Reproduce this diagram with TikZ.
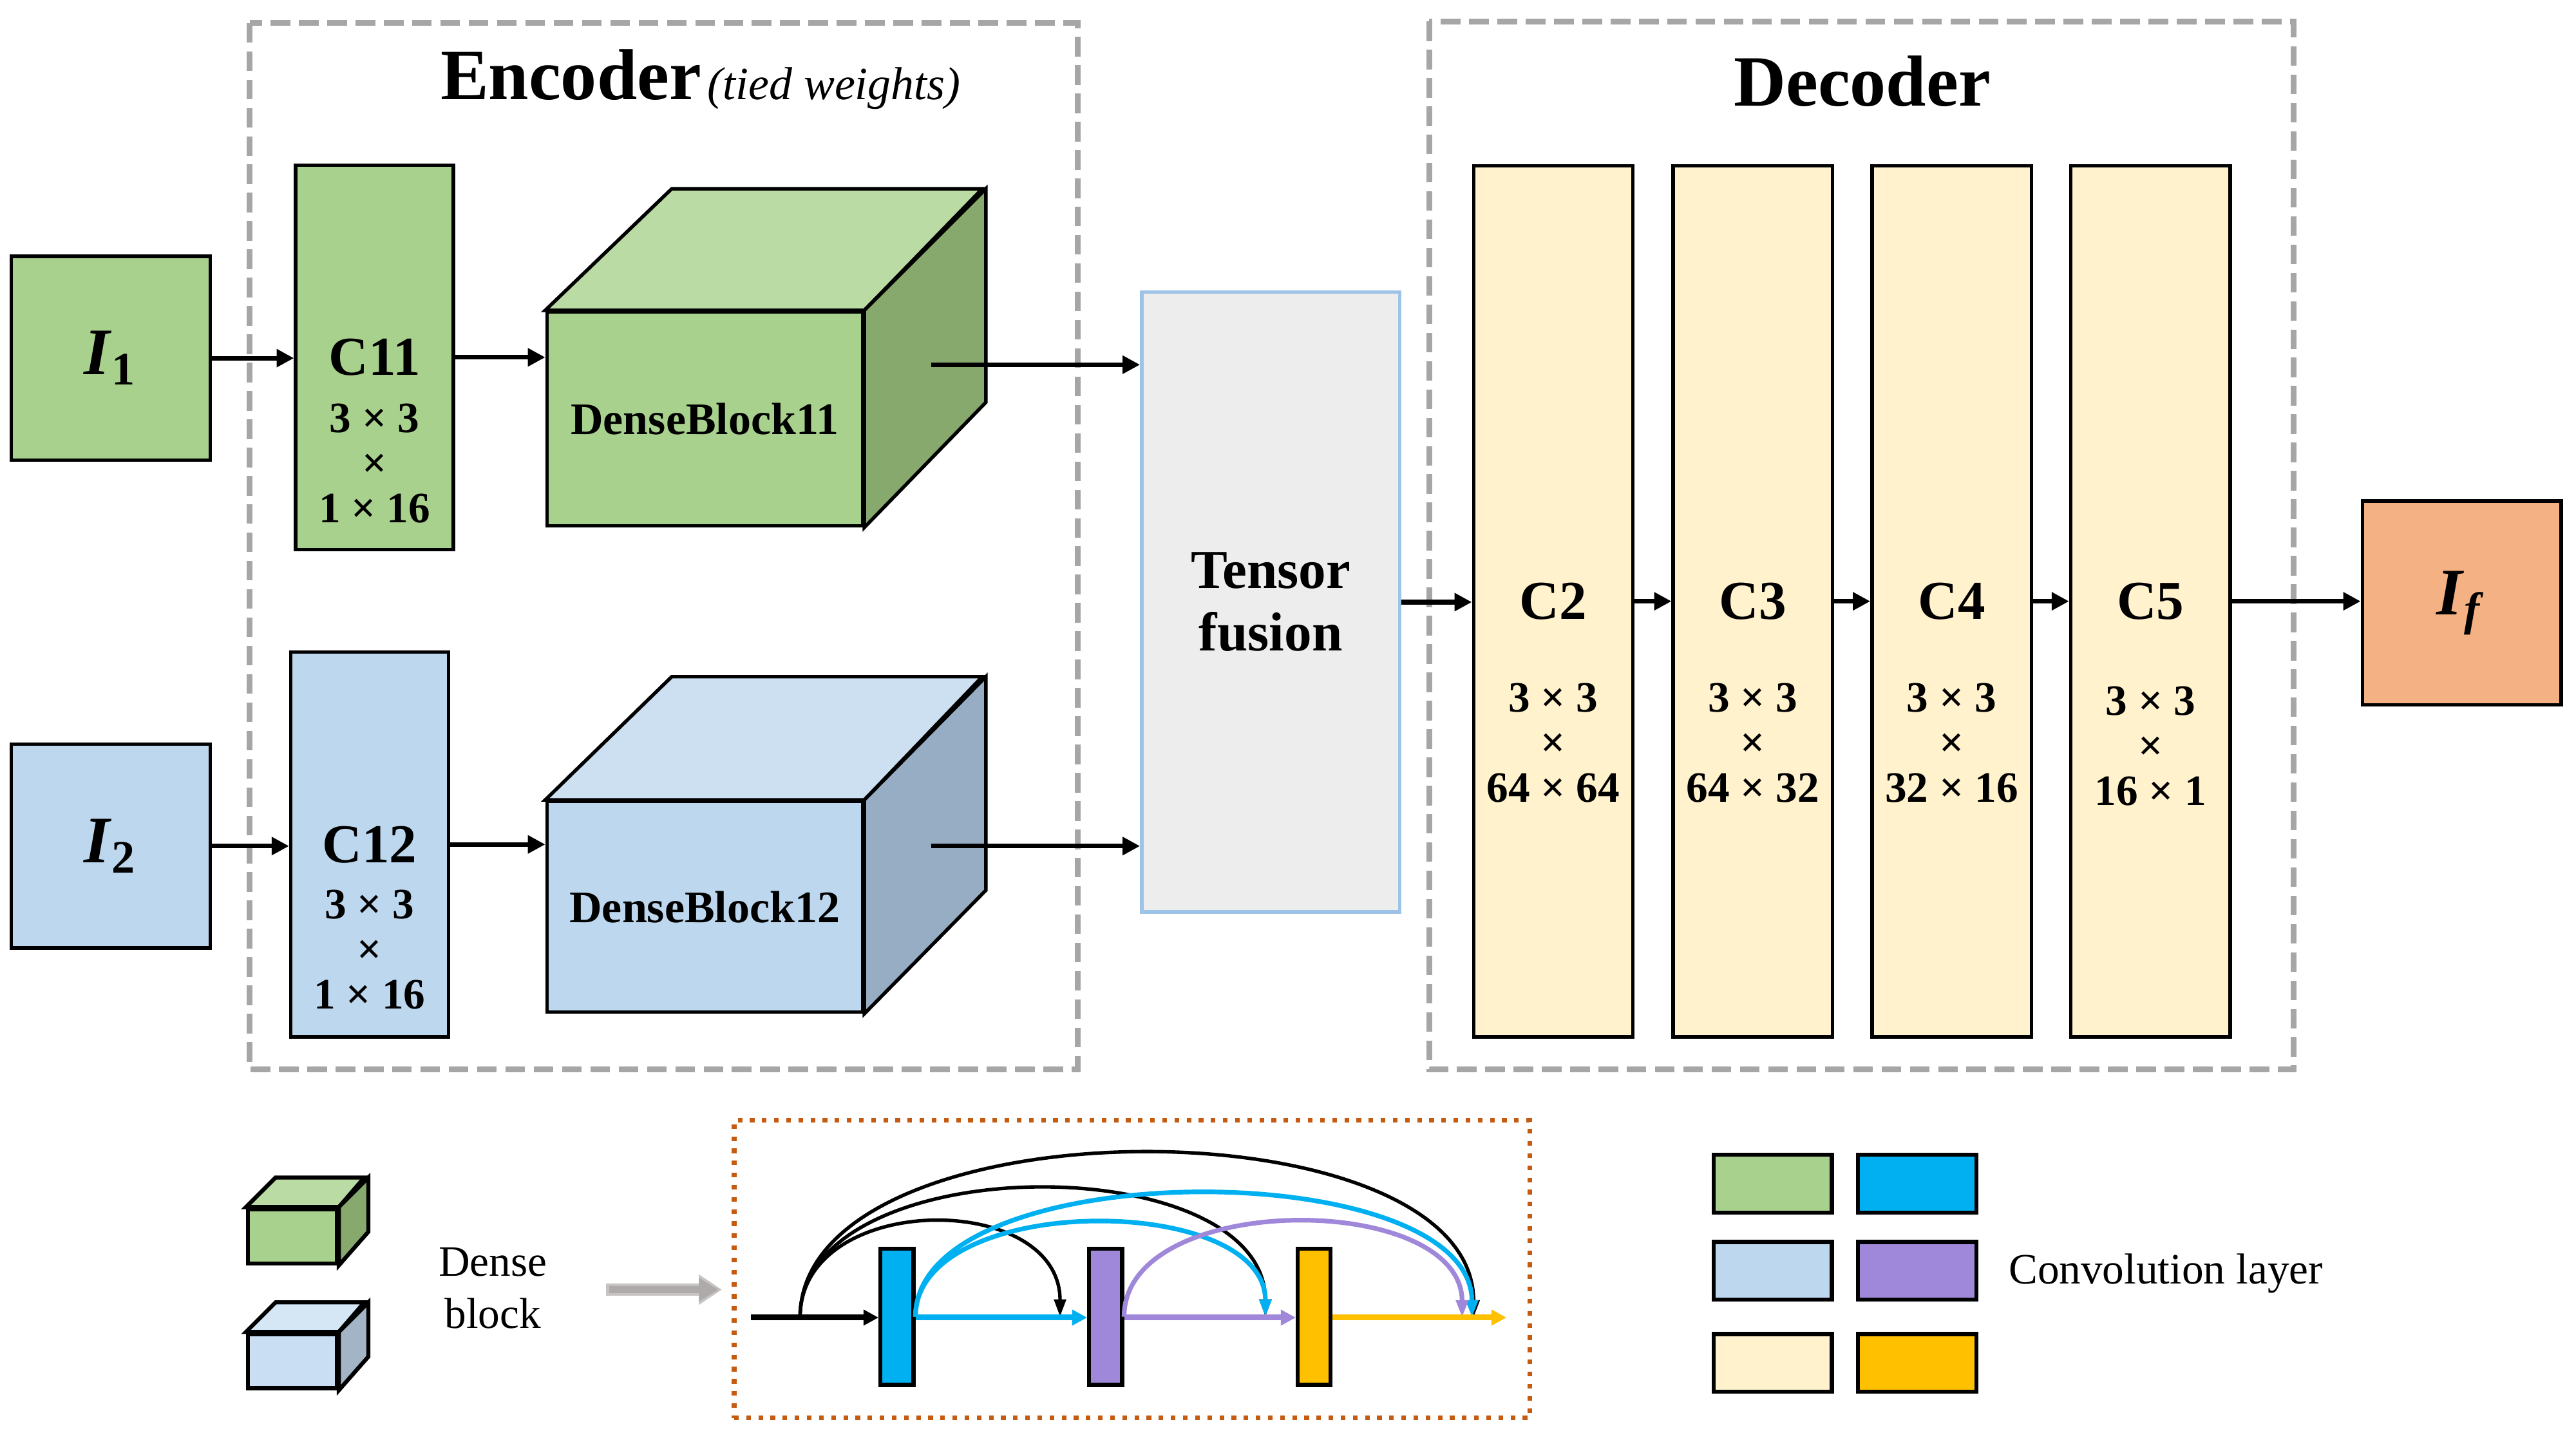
\documentclass[tikz,border=0pt]{standalone}
\usepackage{fontspec}
\setmainfont{Liberation Serif}
\usetikzlibrary{arrows.meta,positioning,calc}

\definecolor{ingreen}{HTML}{A9D18E}
\definecolor{greentop}{HTML}{BBDBA4}
\definecolor{greenside}{HTML}{87A96E}
\definecolor{inblue}{HTML}{BDD7EE}
\definecolor{bluetop}{HTML}{CCE0F2}
\definecolor{blueside}{HTML}{97ADC4}
\definecolor{legblue}{HTML}{C9DEF2}
\definecolor{legbluetop}{HTML}{D5E6F5}
\definecolor{legblueside}{HTML}{A2B4C5}
\definecolor{cream}{HTML}{FFF2CC}
\definecolor{outorange}{HTML}{F4B183}
\definecolor{fusegray}{HTML}{EDEDED}
\definecolor{fuseline}{HTML}{9DC3E6}
\definecolor{framegray}{HTML}{A6A6A6}
\definecolor{dotorange}{HTML}{C55A11}
\definecolor{convcyan}{HTML}{00B0F0}
\definecolor{convpurple}{HTML}{9F88DA}
\definecolor{convgold}{HTML}{FFC000}
\definecolor{hintgray}{HTML}{AEAAAA}

\begin{document}
\begin{tikzpicture}[x=0.01cm, y=-0.01cm,
    box/.style={draw, line width=0.6pt, inner sep=0pt},
    imgbox/.style={box, minimum width=1.21cm, minimum height=1.24cm,
      font=\fontsize{11.5}{13}\selectfont},
    encconv/.style={box, minimum width=0.96cm, minimum height=2.34cm},
    decconv/.style={box, fill=cream, minimum width=0.97cm, minimum height=5.30cm},
    cname/.style={font=\bfseries\fontsize{9.5}{11}\selectfont, inner sep=0pt},
    csize/.style={font=\bfseries\fontsize{7.5}{7.8}\selectfont, align=center, inner sep=0pt},
    frame/.style={draw=framegray, line width=1pt, dash pattern=on 3.4pt off 1.5pt},
    arr/.style={line width=0.8pt, -{Triangle[length=3pt, width=3pt]}},
    bar/.style={draw, line width=0.7pt, inner sep=0pt, minimum width=0.2cm, minimum height=0.83cm},
    flow/.style={line width=1pt, -{Triangle[length=2.6pt, width=2.6pt]}},
    skip/.style={line width=0.6pt, -{Triangle[length=3pt, width=2pt]}},
    legsq/.style={draw, line width=0.7pt, minimum width=0.72cm, minimum height=0.35cm},
    legtext/.style={font=\fontsize{7.5}{9}\selectfont, inner sep=0pt}
  ]
  \useasboundingbox (0,0) rectangle (1568,882);

  % frames
  \draw[frame] (152,14) rectangle (656,651);
  \draw[frame] (870,13) rectangle (1396,651);
  \node[anchor=base, font=\bfseries\fontsize{12.5}{15}\selectfont, inner sep=0pt]
    (enctitle) at (347.5,60.6) {Encoder};
  \node[anchor=base west, font=\itshape\fontsize{8}{10}\selectfont, inner sep=0pt]
    (tied) at (430,60.6) {(tied weights)};
  \node[anchor=base, font=\bfseries\fontsize{12.5}{15}\selectfont, inner sep=0pt]
    (dectitle) at (1133.5,64.5) {Decoder};

  % inputs
  \node[imgbox, fill=ingreen] (i1) at (67.5,218) {\textbf{\textit{I}}\textsubscript{\textbf{1}}};
  \node[imgbox, fill=inblue] (i2) at (67.5,515) {\textbf{\textit{I}}\textsubscript{\textbf{2}}};

  % first conv layers
  \node[encconv, fill=ingreen] (c11) at (228,217.5) {};
  \node[cname] at (c11.center) {C11};
  \node[csize] at ([yshift=-0.645cm]c11.center) {3 × 3\\×\\1 × 16};
  \node[encconv, fill=inblue] (c12) at (225,514) {};
  \node[cname] at (c12.center) {C12};
  \node[csize] at ([yshift=-0.64cm]c12.center) {3 × 3\\×\\1 × 16};

  % dense blocks (front face is the node)
  \node[box, fill=ingreen, minimum width=1.92cm, minimum height=1.30cm,
    font=\bfseries\fontsize{7.8}{9}\selectfont] (db11) at (429,255) {DenseBlock11};
  \draw[box, fill=greentop] (db11.north west) -- ++(77,-74) -- ++(189,0) -- (db11.north east) -- cycle;
  \draw[box, fill=greenside] (db11.north east) -- ++(74,-74) -- ++(0,130) -- (db11.south east) -- cycle;
  \node[box, fill=inblue, minimum width=1.92cm, minimum height=1.28cm,
    font=\bfseries\fontsize{7.8}{9}\selectfont] (db12) at (429,552) {DenseBlock12};
  \draw[box, fill=bluetop] (db12.north west) -- ++(77,-75) -- ++(189,0) -- (db12.north east) -- cycle;
  \draw[box, fill=blueside] (db12.north east) -- ++(74,-75) -- ++(0,130) -- (db12.south east) -- cycle;
  \coordinate (o11) at (567,222);
  \coordinate (o12) at (567,515);

  % fusion
  \node[draw=fuseline, line width=0.6pt, fill=fusegray, inner sep=0pt,
    minimum width=1.57cm, minimum height=3.77cm, align=center,
    font=\bfseries\fontsize{9.5}{10.8}\selectfont] (tf) at (773.5,366.5) {Tensor\\fusion};

  % decoder
  \node[decconv] (c2) at (945.5,366) {};
  \node[decconv] (c3) at (1067,366) {};
  \node[decconv] (c4) at (1188,366) {};
  \node[decconv] (c5) at (1309,366) {};
  \node[cname] at (c2.center) {C2};
  \node[cname] at (c3.center) {C3};
  \node[cname] at (c4.center) {C4};
  \node[cname] at (c5.center) {C5};
  \node[csize] at ([yshift=-0.86cm]c2.center) {3 × 3\\×\\64 × 64};
  \node[csize] at ([yshift=-0.86cm]c3.center) {3 × 3\\×\\64 × 32};
  \node[csize] at ([yshift=-0.86cm]c4.center) {3 × 3\\×\\32 × 16};
  \node[csize] at ([yshift=-0.88cm]c5.center) {3 × 3\\×\\16 × 1};

  \node[imgbox, fill=outorange] (if) at (1498.5,367) {\textbf{\textit{I}}\textsubscript{\textbf{\textit{f}}}};

  % connections
  \draw[arr] (i1.east) -- (i1.east -| c11.west);
  \draw[arr] (i2.east) -- (i2.east -| c12.west);
  \draw[arr] (c11.east) -- (c11.east -| db11.west);
  \draw[arr] (c12.east) -- (c12.east -| db12.west);
  \draw[arr] (o11) -- (o11 -| tf.west);
  \draw[arr] (o12) -- (o12 -| tf.west);
  \draw[arr] (tf.east) -- (tf.east -| c2.west);
  \draw[arr] (c2.east) -- (c3.west);
  \draw[arr] (c3.east) -- (c4.west);
  \draw[arr] (c4.east) -- (c5.west);
  \draw[arr] (c5.east) -- (c5.east -| if.west);

  % legend: dense block
  \node[box, line width=0.7pt, fill=ingreen, minimum width=0.54cm, minimum height=0.33cm] (lg1) at (178,752.5) {};
  \draw[box, line width=0.7pt, fill=greentop] (lg1.north west) -- ++(18,-18) -- ++(54,0) -- (lg1.north east) -- cycle;
  \draw[box, line width=0.7pt, fill=greenside] (lg1.north east) -- ++(18,-18) -- ++(0,33) -- (lg1.south east) -- cycle;
  \node[box, line width=0.7pt, fill=legblue, minimum width=0.54cm, minimum height=0.33cm] (lg2) at (178,828.5) {};
  \draw[box, line width=0.7pt, fill=legbluetop] (lg2.north west) -- ++(18,-18) -- ++(54,0) -- (lg2.north east) -- cycle;
  \draw[box, line width=0.7pt, fill=legblueside] (lg2.north east) -- ++(18,-18) -- ++(0,33) -- (lg2.south east) -- cycle;
  \node[legtext, align=center, font=\fontsize{7.5}{9}\selectfont] (dbtext) at (300,784) {Dense\\block};

  \coordinate (hint0) at (369,785);
  \node[draw=dotorange, line width=0.8pt, dash pattern=on 0.8pt off 1.3pt,
    minimum width=4.84cm, minimum height=1.81cm] (zoomframe) at (689,772.5) {};
  \draw[draw=hintgray!70, line width=2.2pt, -{Triangle[length=4pt, width=5pt]}]
    (hint0) -- ([xshift=-0.06cm]hint0 -| zoomframe.west);
  \draw[draw=hintgray, line width=1.3pt, -{Triangle[length=3.4pt, width=3.8pt]}]
    ([xshift=0.02cm]hint0) -- ([xshift=-0.08cm]hint0 -| zoomframe.west);

  % inside the dense block
  \node[bar, fill=convcyan] (d1) at (546,801.5) {};
  \node[bar, fill=convpurple] (d2) at (673,801.5) {};
  \node[bar, fill=convgold] (d3) at (800,801.5) {};
  \coordinate (din) at (457,802);
  \coordinate (dsplit) at (487,802);
  \coordinate (dout) at (917,802);
  \draw[skip] (dsplit) .. controls +(0,-77) and +(0,-77) .. ([xshift=-0.165cm]d2.west);
  \draw[skip] (dsplit) .. controls +(0,-104) and +(0,-104) .. ([xshift=-0.185cm]d3.west);
  \draw[skip] (dsplit) .. controls +(0,-133) and +(0,-133) .. ([xshift=-0.2cm]dout);
  \draw[skip, convcyan, line width=0.8pt] (d1.east) .. controls +(0,-76) and +(0,-76) .. ([xshift=-0.185cm]d3.west);
  \draw[skip, convcyan, line width=0.8pt] (d1.east) .. controls +(0,-100) and +(0,-100) .. ([xshift=-0.21cm]dout);
  \draw[skip, convpurple, line width=0.8pt] (d2.east) .. controls +(0,-77) and +(0,-77) .. ([xshift=-0.27cm]dout);
  \draw[flow] (din) -- (din -| d1.west);
  \draw[flow, convcyan] (d1.east |- din) -- (din -| d2.west);
  \draw[flow, convpurple] (d2.east |- din) -- (din -| d3.west);
  \draw[flow, convgold] (d3.east |- din) -- (dout);

  % legend: convolution layers
  \node[legsq, fill=ingreen] (lc1) at (1079,720.5) {};
  \node[legsq, fill=convcyan] (lc2) at (1167,720.5) {};
  \node[legsq, fill=inblue] (lc3) at (1079,773.5) {};
  \node[legsq, fill=convpurple] (lc4) at (1167,773.5) {};
  \node[legsq, fill=cream] (lc5) at (1079,829.5) {};
  \node[legsq, fill=convgold] (lc6) at (1167,829.5) {};
  \node[legtext, anchor=west] (convtext) at (1222,775) {Convolution layer};
\end{tikzpicture}
\end{document}
